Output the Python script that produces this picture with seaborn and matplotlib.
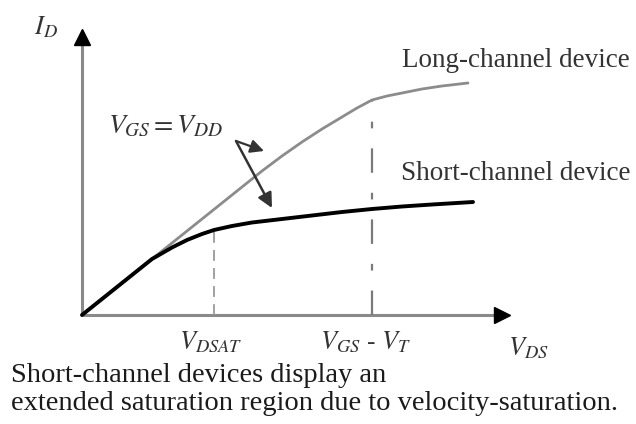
import matplotlib
matplotlib.use("Agg")
import matplotlib.pyplot as plt
import numpy as np
import pandas as pd
import seaborn as sns

# V_DS axis (arbitrary units) and drain currents
vds_long = [0, 0.5, 1.0, 1.5, 1.8, 2.0, 2.2, 2.4, 2.6, 2.75, 2.9, 3.05,
            3.2, 3.4, 3.6, 3.86]
id_long = [0, 0.40, 0.80, 1.20, 1.44, 1.59, 1.73, 1.86, 1.98, 2.07, 2.15,
           2.19, 2.22, 2.26, 2.29, 2.32]
vds_short = [0, 0.4, 0.7, 0.9, 1.05, 1.2, 1.32, 1.5, 1.7, 2.0, 2.3, 2.6,
             2.9, 3.2, 3.5, 3.91]
id_short = [0, 0.32, 0.56, 0.675, 0.75, 0.81, 0.85, 0.89, 0.925, 0.96,
            0.995, 1.03, 1.06, 1.085, 1.105, 1.13]

v_dsat = 1.32          # short-channel saturation point
v_gs_minus_vt = 2.9    # long-channel saturation point
x_axis_end = 4.26
y_axis_end = 2.83

tick_labels = [r"$V_{DSAT}$", r"$V_{GS}\ \text{-}\ V_T$", r"$V_{DS}$"]
curve_labels = ["Long-channel device", "Short-channel device"]
caption = ["Short-channel devices display an",
           "extended saturation region due to velocity-saturation."]

sns.set_style("white")
plt.rcParams["font.family"] = ["Liberation Serif", "DejaVu Serif"]
plt.rcParams["mathtext.fontset"] = "stix"

fig = plt.figure(figsize=(6.36, 4.24), dpi=100)
ax = fig.add_axes([0, 0, 1, 1])
ax.set_xlim(-0.82, 5.54)
ax.set_ylim(-1.09, 3.15)
ax.axis("off")

df_long = pd.DataFrame({"vds": vds_long, "id": id_long})
df_short = pd.DataFrame({"vds": vds_short, "id": id_short})

# axes with arrow heads
ax.plot([0, 0], [0, y_axis_end - 0.05], color="#8a8a8a", lw=2.2)
ax.plot([0, x_axis_end - 0.05], [0, 0], color="#8a8a8a", lw=2.2)
ax.plot([0], [y_axis_end - 0.05], marker="^", color="black", ms=11)
ax.plot([x_axis_end - 0.06], [0], marker=">", color="black", ms=11)

# saturation markers
short_sat = np.interp(v_dsat, vds_short, id_short)
long_sat = np.interp(v_gs_minus_vt, vds_long, id_long)
ax.plot([v_dsat, v_dsat], [0, short_sat], color="#9a9a9a", lw=1.3,
        dashes=(6, 4))
ax.plot([v_gs_minus_vt, v_gs_minus_vt], [0, long_sat], color="#7a7a7a",
        lw=1.6, dashes=(11, 9, 3, 9))

sns.lineplot(data=df_long, x="vds", y="id", ax=ax, color="#8c8c8c",
             lw=2.0, sort=False)
sns.lineplot(data=df_short, x="vds", y="id", ax=ax, color="black",
             lw=2.8, sort=False)

# V_GS = V_DD arrow
ax.annotate("", xy=(1.90, 1.07), xytext=(1.54, 1.74),
            arrowprops=dict(arrowstyle="-|>", color="#333333", lw=1.8,
                            mutation_scale=22, shrinkA=0, shrinkB=0))
ax.annotate("", xy=(1.82, 1.64), xytext=(1.54, 1.74),
            arrowprops=dict(arrowstyle="-|>", color="#333333", lw=1.6,
                            mutation_scale=20, shrinkA=0, shrinkB=0))

ax.text(0.26, 1.88, r"$V_{GS} = V_{DD}$", fontsize=20, color="#333333",
        ha="left", va="center")
ax.text(-0.36, 2.88, r"$I_D$", fontsize=19, color="#333333",
        ha="center", va="center")

ax.text(3.20, 2.55, curve_labels[0], fontsize=19.5, color="#333333",
        ha="left", va="center")
ax.text(3.19, 1.42, curve_labels[1], fontsize=19.5, color="#333333",
        ha="left", va="center")

ax.text(v_dsat - 0.03, -0.27, tick_labels[0], fontsize=19, color="#333333",
        ha="center", va="center")
ax.text(v_gs_minus_vt - 0.06, -0.27, tick_labels[1], fontsize=19,
        color="#333333", ha="center", va="center")
ax.text(x_axis_end + 0.2, -0.33, tick_labels[2], fontsize=19,
        color="#333333", ha="center", va="center")

fig.text(0.018, 1 - 376 / 424, caption[0], fontsize=20.5, color="#1a1a1a",
         ha="left", va="center")
fig.text(0.018, 1 - 403 / 424, caption[1], fontsize=20.5, color="#1a1a1a",
         ha="left", va="center")

fig.savefig("out.png", dpi=100)
